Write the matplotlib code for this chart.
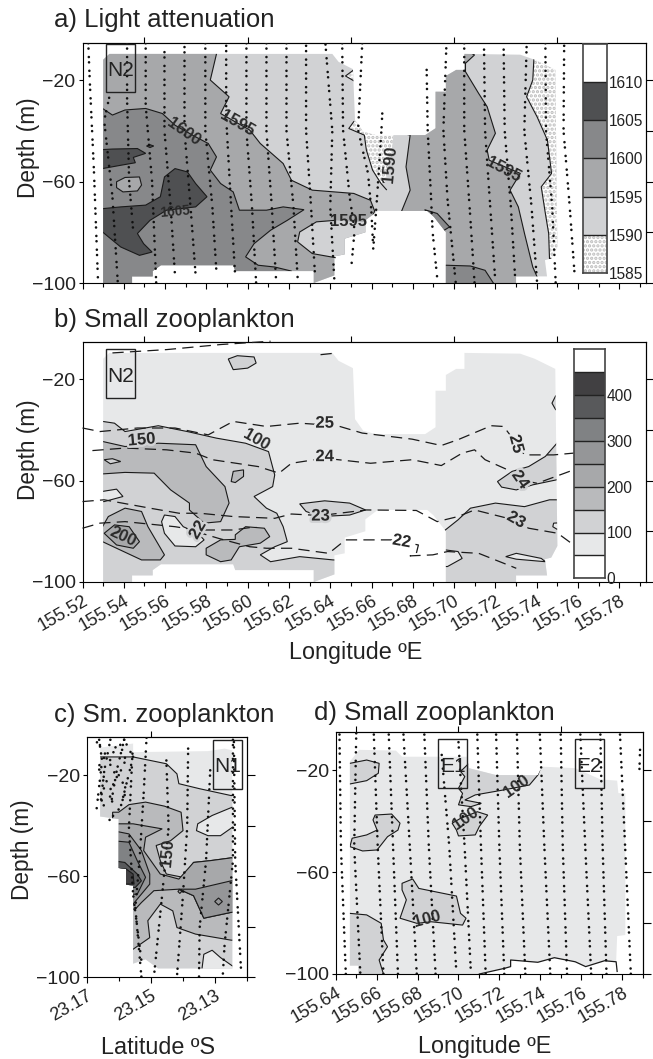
import matplotlib
matplotlib.use("Agg")
import matplotlib.pyplot as plt
import matplotlib.patheffects as pe
import numpy as np
from matplotlib.colors import BoundaryNorm, ListedColormap
from matplotlib.patches import Rectangle

plt.rcParams['font.family'] = ['Liberation Sans', 'DejaVu Sans']
plt.rcParams['hatch.linewidth'] = 1.6
plt.rcParams['axes.linewidth'] = 0.8

W, H = 653, 1059

# colour scales
att_levels = [1585, 1590, 1595, 1600, 1605, 1610, 1615]
att_ticks = [1585, 1590, 1595, 1600, 1605, 1610]
zoo_levels = [0, 50, 100, 150, 200, 250, 300, 350, 400, 450, 500]
zoo_ticks = [0, 100, 200, 300, 400]

# data extent of the transect north (panels a, b), (lon, depth)
env_ab = [(155.5300,-100),(155.5300,-12),(155.5330,-9.7),(155.6410,-9.7),(155.6440,-12.8),(155.6510,-15.7),
          (155.6520,-35.8),(155.6560,-40.4),(155.6620,-41.7),(155.6860,-41.7),(155.6910,-39),(155.6910,-24.6),
          (155.6960,-24.6),(155.6960,-18.4),(155.7010,-16),(155.7050,-16),(155.7050,-9.7),(155.7320,-10),
          (155.7390,-12),(155.7490,-16),(155.7500,-85.8),(155.7470,-90.4),(155.7440,-91),(155.7450,-97.4),
          (155.7300,-97.4),(155.7300,-100),(155.6960,-100),(155.6960,-80),(155.6900,-73.7),(155.6870,-71.6),
          (155.6630,-71.6),(155.6570,-75.3),(155.6570,-80),(155.6470,-82.5),(155.6470,-88.7),(155.6420,-89.5),
          (155.6420,-97),(155.6320,-100),(155.6320,-95.3),(155.5940,-95.3),(155.5930,-93),(155.5580,-93),
          (155.5540,-95.3),(155.5540,-97.4),(155.5440,-97.4),(155.5440,-100)]

# panel a regions, (lon, depth)
a_1595_left = [(155.5849,-9.7),(155.5819,-20),(155.5910,-26.6),(155.5869,-33.2),(155.6010,-39.7),(155.6061,-45),
               (155.6172,-52.9),(155.6212,-59.5),(155.6313,-63.4),(155.6514,-64.7),(155.6595,-67.4),(155.6615,-71.6),
               (155.6575,-80.5),(155.6575,-103),(155.51,-103),(155.51,-5),(155.5849,-5)]
a_1590_lens = [(155.6424,-75.3),(155.6333,-75.9),(155.6252,-79.9),(155.6242,-83.8),(155.6313,-88.4),(155.6424,-90),
               (155.6615,-90),(155.6615,-76),(155.6500,-75.8)]
a_1595_right = [(155.6787,-41.7),(155.6767,-54.2),(155.6787,-63.4),(155.6746,-71.6),(155.6746,-101.6),(155.7412,-101.6),
                (155.7402,-97.6),(155.7381,-93.7),(155.7341,-80.5),(155.7311,-70),(155.7271,-63.4),(155.7321,-56.8),
                (155.7170,-51.6),(155.7160,-47.6),(155.7200,-41),(155.7160,-30.5),(155.7119,-25.3),(155.7055,-16.7),
                (155.7055,-13.4),(155.7099,-10.1),(155.7055,-8.2),(155.6746,-8.2),(155.6746,-41)]
a_1585_mid = [(155.6490,-39.1),(155.6514,-36.4),(155.6706,-36),(155.6706,-41.7),(155.6695,-50),(155.6666,-60),
              (155.6646,-60.8),(155.6605,-55.5),(155.6575,-47.6),(155.6565,-41.7)]
a_1590_line = [(155.6514,-36.4),(155.6490,-39.1),(155.6565,-41.7),(155.6575,-47.6),(155.6605,-55.5),(155.6646,-60.8),
               (155.6672,-63.2)]
a_1585_small = [(155.6514,-16),(155.6474,-18.4),(155.6514,-20.3),(155.6555,-20.3),(155.6555,-16)]
a_1585_right = [(155.7387,-10.8),(155.7381,-20),(155.7351,-26.6),(155.7402,-34.5),(155.7452,-43.7),(155.7472,-56.8),
                (155.7422,-62.1),(155.7442,-72.6),(155.7458,-80.5),(155.7462,-90.4),(155.7623,-90.4),(155.7623,-10.8)]
a_1600 = [(155.51,-31.2),(155.5297,-31.2),(155.5345,-33.8),(155.5406,-31.8),(155.5506,-31.2),(155.5587,-33.2),
          (155.5648,-37.8),(155.5748,-42.4),(155.5809,-45),(155.5849,-50.3),(155.5819,-55.5),(155.5869,-60.8),
          (155.5930,-64.1),(155.5960,-71.3),(155.6091,-71.3),(155.6172,-70),(155.6273,-71.1),(155.6192,-75.3),
          (155.6111,-79.2),(155.6031,-84.5),(155.5990,-89.7),(155.6051,-93),(155.6131,-93.7),(155.6212,-95.3),
          (155.6212,-103),(155.51,-103)]
a_1595_lens = [(155.5365,-60.1),(155.5406,-58.4),(155.5476,-58.2),(155.5486,-61.4),(155.5466,-63.7),(155.5396,-64.1),
               (155.5365,-62.4)]
a_1605_top = [(155.51,-48.3),(155.5345,-47.2),(155.5466,-47),(155.5506,-48.9),(155.5446,-50.5),(155.5456,-52.6),
              (155.5385,-53.6),(155.5297,-54.9),(155.51,-54.9)]
a_1605_dot = [(155.5510,-46),(155.5527,-45.5),(155.5545,-46),(155.5527,-46.6)]
a_1605_big = [(155.51,-70.7),(155.5297,-70.7),(155.5385,-70),(155.5506,-69.3),(155.5577,-66),(155.5597,-58.2),
              (155.5648,-54.9),(155.5708,-56.2),(155.5748,-60.8),(155.5803,-66),(155.5748,-70),(155.5607,-71.3),
              (155.5527,-75.3),(155.5466,-80.5),(155.5496,-84.5),(155.5537,-87.8),(155.5476,-89.1),(155.5385,-85.8),
              (155.5297,-79.9),(155.51,-79.9)]
a_1600_corner = [(155.6962,-93),(155.7079,-93.3),(155.7150,-95),(155.7190,-100),(155.7190,-103),(155.6918,-103),(155.6918,-93)]
a_1600_notch = [(155.6857,-71.1),(155.6918,-72.6),(155.6978,-77.9),(155.6938,-79.9),(155.6908,-79.9),(155.6897,-73.9)]

a_tracks = [
    [(155.5228,-5.5),(155.5235,-20),(155.5255,-55),(155.5275,-99)],
    [(155.5329,-27),(155.5305,-36),(155.5345,-66),(155.5371,-100)],
    [(155.5416,-5.5),(155.5416,-28),(155.5426,-60),(155.5446,-80)],
    [(155.5506,-5.5),(155.5506,-30),(155.5537,-60),(155.5557,-100)],
    [(155.5597,-9),(155.5597,-40),(155.5627,-70),(155.5648,-97)],
    [(155.5694,-7),(155.5694,-40),(155.5728,-75),(155.5748,-97)],
    [(155.5795,-5.5),(155.5795,-40),(155.5829,-70),(155.5849,-96)],
    [(155.5896,-6.5),(155.5896,-35),(155.5920,-70),(155.5940,-98)],
    [(155.5994,-5.5),(155.5994,-40),(155.6021,-70),(155.6041,-100)],
    [(155.6091,-5.5),(155.6091,-40),(155.6117,-70),(155.6137,-98)],
    [(155.6188,-5.5),(155.6188,-40),(155.6222,-70),(155.6242,-98)],
    [(155.6283,-6.5),(155.6283,-40),(155.6307,-70),(155.6327,-98)],
    [(155.6377,-6),(155.6410,-40),(155.6400,-70),(155.6420,-99)],
    [(155.6458,-5.5),(155.6462,-39.7),(155.6494,-66),(155.6518,-79.2),(155.6502,-93.7)],
    [(155.6555,-5.5),(155.6535,-39.7),(155.6583,-56.8),(155.6599,-71.3),(155.6609,-87.8)],
    [(155.6652,-33.2),(155.6648,-39.7),(155.6627,-66),(155.6609,-85.8)],
    [(155.6867,-16),(155.6872,-39.7),(155.6888,-66),(155.6896,-80),(155.6918,-98)],
    [(155.6962,-7.5),(155.6948,-39.7),(155.6968,-67),(155.7008,-100)],
    [(155.7049,-5.5),(155.7049,-39.7),(155.7075,-70),(155.7099,-100)],
    [(155.7145,-8),(155.7150,-40),(155.7175,-70),(155.7200,-100)],
    [(155.7240,-8),(155.7245,-40),(155.7275,-70),(155.7297,-100)],
    [(155.7351,-7),(155.7340,-40),(155.7375,-70),(155.7402,-100)],
    [(155.7442,-5.5),(155.7445,-40),(155.7475,-70),(155.7492,-100)],
    [(155.7533,-6.5),(155.7530,-40),(155.7560,-70),(155.7583,-96)],
]
a_labels = ["1600", "1595", "1605", "1595", "1590", "1595"]
a_label_lon = [155.5688, 155.5950, 155.5650, 155.6490, 155.6690, 155.7240]
a_label_dep = [-40.5, -37, -72, -75.7, -53, -55.5]

# panel b regions, (lon, depth)
b_100_main = [(155.51,-36.7),(155.5297,-36.7),(155.5355,-37.4),(155.5406,-40.7),(155.5567,-38.4),(155.5708,-40.7),
              (155.5849,-43.3),(155.5990,-45.3),(155.6101,-48.6),(155.6131,-57.8),(155.6121,-62.4),(155.6031,-66.3),
              (155.6091,-70.9),(155.6141,-72.9),(155.6172,-78.2),(155.6192,-84.1),(155.6131,-86.1),(155.6061,-89.3),
              (155.6111,-92),(155.6252,-90),(155.6414,-91.3),(155.6474,-91.3),(155.6474,-103),(155.51,-103)]
b_50_lens = [(155.5597,-73.6),(155.5648,-74.2),(155.5688,-78.2),(155.5758,-80.8),(155.5789,-83.4),(155.5748,-86.1),
             (155.5648,-85.8),(155.5597,-80.8),(155.5583,-76.2)]
b_50_left = [(155.51,-64.3),(155.5297,-64.3),(155.5365,-63.4),(155.5396,-66.3),(155.5305,-68.3),(155.51,-68.3)]
b_100_right = [(155.6897,-81.4),(155.6928,-81.4),(155.7019,-75.5),(155.7079,-70.9),(155.7200,-68.9),(155.7341,-70.3),
               (155.7462,-67.6),(155.7623,-67.6),(155.7623,-103),(155.6897,-103)]
b_50_r1 = [(155.6918,-87.4),(155.6962,-87.4),(155.7019,-88),(155.7039,-90.7),(155.6968,-93.9),(155.6918,-93.9)]
b_50_r2 = [(155.7250,-90),(155.7301,-88.7),(155.7422,-90.7),(155.7442,-92),(155.7301,-91)]
b_50_r3 = [(155.7623,-76.2),(155.7482,-76.8),(155.7478,-78.2),(155.7498,-79.2),(155.7623,-79.2)]
b_100_r4 = [(155.7210,-60.4),(155.7281,-56.4),(155.7361,-54.5),(155.7442,-50.5),(155.7498,-45.3),(155.7623,-45.3),
            (155.7623,-59.7),(155.7498,-59.7),(155.7381,-61.7),(155.7301,-63.7),(155.7230,-62.6)]
b_100_top = [(155.5906,-12.1),(155.5950,-10.8),(155.6031,-11.3),(155.6041,-13.7),(155.6000,-15.7),(155.5930,-16.3)]
b_100_arc = [(155.7623,-26.6),(155.7492,-26.6),(155.7474,-29.5),(155.7492,-32.1),(155.7623,-32.1)]
b_100_mid = [(155.6252,-69.2),(155.6373,-68),(155.6494,-68.9),(155.6571,-71.6),(155.6494,-73.6),(155.6353,-74.2),
             (155.6283,-72.2)]
b_150_main = [(155.51,-44.6),(155.5297,-44.6),(155.5406,-46.6),(155.5567,-45.3),(155.5748,-45.9),(155.5799,-54.5),
              (155.5890,-62.4),(155.5910,-68.9),(155.5869,-76.2),(155.5789,-76.8),(155.5718,-71.6),(155.5718,-68.9),
              (155.5627,-63.7),(155.5547,-57.1),(155.5406,-56.8),(155.5297,-57.4),(155.51,-57.4)]
b_100_hole = [(155.5305,-51.8),(155.5345,-51.4),(155.5385,-52.5),(155.5335,-53.4)]
b_150_small = [(155.5920,-60.4),(155.5930,-56.4),(155.5980,-55.8),(155.5980,-58.4),(155.5940,-60.8)]
b_150_low = [(155.51,-78.2),(155.5297,-78.2),(155.5325,-74.2),(155.5406,-70.9),(155.5486,-72.2),(155.5517,-78.2),
             (155.5597,-89.3),(155.5577,-91.3),(155.5486,-91.3),(155.5365,-86.7),(155.5297,-84.1),(155.51,-84.1)]
b_200_core = [(155.5305,-80.8),(155.5355,-77.5),(155.5426,-78.2),(155.5476,-84.1),(155.5446,-86.7),(155.5365,-85.4)]
b_150_mid = [(155.5940,-81.4),(155.5990,-78.2),(155.6081,-78.8),(155.6107,-82.1),(155.6061,-84.7),(155.5960,-86.1),
             (155.5920,-91.3),(155.5869,-92),(155.5799,-89.3),(155.5799,-86.7),(155.5869,-83.4),(155.5940,-83.2)]

# temperature contours over panel b
temp_25 = [(155.52,-39.3),(155.5285,-40.7),(155.5466,-39.3),(155.5648,-39.3),(155.5809,-42),(155.5930,-36.7),
           (155.6091,-38.7),(155.6252,-37.4),(155.6434,-38.4),(155.6555,-41.3),(155.6797,-43.7),(155.6938,-46.2),
           (155.7019,-43.9),(155.7180,-38.4),(155.7240,-38.7),(155.7301,-45.3),(155.7341,-49.9),(155.7482,-49.9),
           (155.7579,-49.2)]
temp_24 = [(155.5248,-48.2),(155.5406,-47.2),(155.5607,-47.9),(155.5748,-49.2),(155.5829,-51.8),(155.6051,-54.5),
           (155.6152,-57.1),(155.6212,-53.2),(155.6373,-51.2),(155.6595,-53.2),(155.6797,-51.8),(155.6938,-54.1),
           (155.7039,-49.2),(155.7099,-47.9),(155.7150,-51.8),(155.7260,-55.8),(155.7321,-59.7),(155.7402,-61.1),
           (155.7579,-55.8)]
temp_top = [(155.5345,-9.7),(155.5607,-8.4),(155.5869,-6.4),(155.6111,-5.1)]
temp_top2 = [(155.6353,-10.4),(155.6434,-9.7)]
temp_23 = [(155.52,-68.3),(155.5305,-67.6),(155.5527,-70.9),(155.5668,-72.9),(155.5769,-72.9),(155.5930,-74.2),
           (155.6131,-74.9),(155.6212,-73.2),(155.6353,-73.8),(155.6575,-71.6),(155.6817,-71.8),(155.6918,-76.2),
           (155.7019,-74.2),(155.7099,-71.6),(155.7260,-74.9),(155.7361,-78.8),(155.7502,-80.8),(155.7579,-85.4)]
temp_22a = [(155.52,-78.8),(155.5285,-76.8),(155.5406,-76.2),(155.5648,-78.2),(155.5748,-79.5),(155.5930,-79.5),
            (155.6041,-78.2)]
temp_22b = [(155.5748,-80.1),(155.5859,-82.8),(155.6010,-86.1),(155.6091,-86.7),(155.6212,-86.7),(155.6393,-88.7),
            (155.6474,-83.4),(155.6696,-83.4),(155.6746,-84.1),(155.6827,-85.4),(155.6817,-88.7),(155.6787,-89.7),
            (155.6897,-89.3),(155.6968,-88),(155.7119,-88.7),(155.7280,-93.9),(155.7301,-94.6)]
b_labels = ["25", "24", "23", "23", "22", "22", "25", "24", "150", "100", "200"]
b_label_lon = [155.6373, 155.6373, 155.6353, 155.7301, 155.6746, 155.5758, 155.7301, 155.7321, 155.5486, 155.6041, 155.5396]
b_label_dep = [-37.4, -50.6, -74, -75.5, -84, -79.5, -45.6, -59.7, -44, -44, -82]

# panel c regions, (lat, depth)
env_c = [(23.1658,-36.4),(23.1658,-9.1),(23.1555,-7.5),(23.1555,-10.9),(23.1321,-10.5),(23.1269,-9.5),(23.1245,-10.2),
         (23.1245,-96.6),(23.1477,-96.6),(23.1516,-93),(23.1555,-94.7),(23.1555,-63.8),(23.1577,-63.4),(23.1577,-57.2),
         (23.1600,-56.8),(23.1600,-37.4)]
c_100 = [(23.1710,-12.8),(23.1555,-12.8),(23.1451,-15.5),(23.1418,-19.5),(23.1412,-23.4),(23.1347,-25.4),(23.1249,-28.1),
         (23.1191,-28.1),(23.1191,-101.6),(23.1710,-101.6)]
c_50_a = [(23.1191,-32.7),(23.1245,-32.7),(23.1308,-36),(23.1353,-39.3),(23.1357,-42),(23.1321,-44),(23.1282,-44),
          (23.1245,-40.7),(23.1191,-40.7)]
c_50_b = [(23.1340,-101.6),(23.1340,-97),(23.1334,-91),(23.1308,-89.4),(23.1282,-92.3),(23.1245,-95.6),(23.1191,-95.6),
          (23.1191,-101.6)]
c_150 = [(23.1619,-34.7),(23.1600,-34.7),(23.1568,-31.7),(23.1516,-30.7),(23.1457,-32.3),(23.1405,-34.7),(23.1399,-42),
         (23.1438,-46),(23.1483,-47.9),(23.1470,-53.9),(23.1451,-59.2),(23.1399,-60.5),(23.1366,-54.6),(23.1314,-53.9),
         (23.1249,-52.8),(23.1191,-52.8),(23.1191,-85.7),(23.1249,-85.4),(23.1360,-83),(23.1418,-80.4),(23.1431,-73.8),
         (23.1470,-71.1),(23.1509,-77.7),(23.1503,-84.4),(23.1555,-89),(23.1619,-89)]
c_200 = [(23.1619,-39.3),(23.1555,-39.3),(23.1464,-41.3),(23.1516,-44.6),(23.1522,-49.9),(23.1470,-59.2),(23.1412,-61.2),
         (23.1366,-54.6),(23.1314,-53.9),(23.1249,-52.8),(23.1191,-52.8),(23.1191,-73.8),(23.1249,-74.4),(23.1334,-76.7),
         (23.1366,-67.8),(23.1412,-65.2),(23.1490,-65.8),(23.1529,-70.5),(23.1548,-73.1),(23.1619,-73.1)]
c_250_right = [(23.1360,-65.2),(23.1249,-61.9),(23.1191,-61.9),(23.1191,-73.8),(23.1249,-74.4),(23.1334,-76.7),
               (23.1366,-67.8),(23.1412,-65.2)]
c_250_left = [(23.1619,-42),(23.1568,-43.3),(23.1529,-49.9),(23.1503,-59.2),(23.1503,-63.2),(23.1555,-71.1),(23.1619,-71.1)]
c_300 = [(23.1619,-46),(23.1568,-46.6),(23.1542,-53.9),(23.1516,-60.5),(23.1542,-67.2),(23.1619,-67.2)]
c_350 = [(23.1619,-53.9),(23.1581,-54.6),(23.1542,-59.2),(23.1529,-61.9),(23.1548,-64.5),(23.1619,-64.5)]
c_400 = [(23.1619,-56.8),(23.1577,-57.2),(23.1555,-59.2),(23.1552,-63.2),(23.1619,-63.2)]
c_spot1 = [(23.1300,-70.1),(23.1288,-68.7),(23.1276,-70.1),(23.1288,-71.5)]
c_spot2 = [(23.1415,-66.1),(23.1409,-65.3),(23.1403,-66.1),(23.1409,-66.9)]
c_tracks = [
    [(23.1661,-6),(23.1652,-14.2),(23.1669,-33.4)],
    [(23.1668,-7),(23.1640,-12),(23.1665,-17),(23.1635,-23),(23.1660,-28),(23.1640,-34)],
    [(23.1626,-6),(23.1645,-18.1),(23.1658,-32.7)],
    [(23.1610,-9),(23.1630,-15),(23.1605,-21),(23.1632,-27),(23.1612,-33)],
    [(23.1583,-6),(23.1606,-18.1),(23.1626,-32.7)],
    [(23.1595,-8),(23.1578,-14),(23.1600,-20),(23.1575,-26),(23.1595,-32)],
    [(23.1583,-6),(23.1555,-12.8),(23.1594,-32.7),(23.1639,-39.3)],
    [(23.1513,-5.2),(23.1522,-27.4),(23.1535,-53.9),(23.1548,-72.5),(23.1529,-100)],
    [(23.1557,-11.5),(23.1568,-40.7),(23.1555,-67.2),(23.1529,-93.6)],
    [(23.1451,-14.2),(23.1444,-40.7),(23.1464,-67.2),(23.1490,-100)],
    [(23.1383,-9.5),(23.1386,-40.7),(23.1399,-67.2),(23.1418,-100)],
    [(23.1314,-18.1),(23.1327,-53.9),(23.1347,-80.4),(23.1349,-100)],
    [(23.1243,-6),(23.1243,-53.9),(23.1269,-87),(23.1275,-100)],
    [(23.1240,-6.9),(23.1236,-53.9),(23.1217,-98.9)],
]
c_labels = ["150"]
c_label_lat = [23.1447]
c_label_dep = [-51]

# panel d regions, (lon, depth)
env_d = [(155.6469,-96.7),(155.6469,-16.6),(155.6514,-12),(155.6694,-12.3),(155.6724,-14.7),(155.6898,-14.7),(155.7041,-14.7),
         (155.7051,-19.2),(155.7184,-21.9),(155.7388,-21.9),(155.7408,-18.6),(155.7571,-19.2),(155.7694,-23.6),(155.7776,-24.1),
         (155.7782,-29),(155.7816,-29),(155.7816,-84.7),(155.7776,-85.1),(155.7771,-95.2),(155.7714,-94.8),(155.7622,-97.1),
         (155.7571,-95.2),(155.7469,-93.6),(155.7388,-95.4),(155.7255,-94.5),(155.7255,-97.1),(155.7224,-97.8),(155.7102,-100),
         (155.6510,-100),(155.6510,-96.7)]
d_bottom_line = [(155.7102,-100),(155.7224,-97.8),(155.7255,-97.1),(155.7255,-94.5),(155.7388,-95.4),(155.7469,-93.6),
                 (155.7571,-95.2),(155.7622,-97.1),(155.7714,-94.8),(155.7771,-95.2),(155.7776,-99)]
d_p1 = [(155.6367,-17.3),(155.6469,-17.3),(155.6551,-16),(155.6612,-17.3),(155.6608,-21.2),(155.6551,-24.1),(155.6469,-25.4),(155.6367,-25.4)]
d_p2 = [(155.6592,-37.6),(155.6673,-37.2),(155.6714,-40.8),(155.6704,-43.5),(155.6653,-46.1),(155.6602,-51.3),(155.6531,-51.7),
        (155.6469,-50),(155.6480,-46.7),(155.6551,-45.4),(155.6602,-43.5),(155.6582,-39.5)]
d_p3 = [(155.6724,-64.4),(155.6776,-62.7),(155.6806,-66.4),(155.6990,-69.4),(155.7010,-76.2),(155.7037,-78.1),(155.7020,-80.8),
        (155.6939,-80.1),(155.6867,-79.5),(155.6796,-80.1),(155.6714,-78.1),(155.6745,-70.9),(155.6724,-67)]
d_p4 = [(155.6367,-76.2),(155.6469,-76.2),(155.6551,-76.8),(155.6622,-80.1),(155.6633,-86.6),(155.6653,-89.3),(155.6612,-94.5),
        (155.6633,-100),(155.6633,-102.4),(155.6367,-102.4)]
d_p5 = [(155.7051,-17.3),(155.7010,-20.5),(155.7031,-22.5),(155.7000,-27.1),(155.7020,-29.1),(155.7000,-33.6),(155.7061,-34.3),
        (155.7112,-33),(155.7031,-31.7),(155.7082,-29.7),(155.7224,-27.7),(155.7347,-25.8),(155.7388,-21.9),(155.7398,-19.9)]
d_p6 = [(155.7010,-38.9),(155.7092,-36.3),(155.7143,-37.6),(155.7102,-42.1),(155.7082,-45.4),(155.7000,-45.8),(155.6990,-43.5),(155.6969,-40.8)]
d_tracks = [
    [(155.6418,-6),(155.6425,-50),(155.6449,-100)],
    [(155.6500,-5.5),(155.6490,-50),(155.6520,-100)],
    [(155.6586,-6),(155.6605,-50),(155.6633,-100)],
    [(155.6659,-6),(155.6680,-50),(155.6704,-100)],
    [(155.6731,-6),(155.6762,-50),(155.6796,-100)],
    [(155.6833,-6),(155.6855,-50),(155.6888,-100)],
    [(155.6918,-14),(155.6955,-50),(155.6990,-100)],
    [(155.7000,-9),(155.7030,-50),(155.7061,-100)],
    [(155.7092,-6),(155.7110,-50),(155.7133,-100)],
    [(155.7184,-6),(155.7200,-50),(155.7224,-100)],
    [(155.7286,-6),(155.7300,-50),(155.7327,-100)],
    [(155.7398,-6),(155.7420,-50),(155.7449,-100)],
    [(155.7500,-6),(155.7510,-50),(155.7531,-100)],
    [(155.7596,-6),(155.7620,-50),(155.7649,-100)],
    [(155.7694,-6),(155.7705,-50),(155.7724,-100)],
    [(155.7790,-6),(155.7815,-50),(155.7843,-100)],
    [(155.7888,-12),(155.7885,-20)],
]
d_labels = ["100", "100", "100"]
d_label_lon = [155.7286, 155.7037, 155.6847]
d_label_dep = [-26.5, -38.8, -78.5]

# station boxes: left, right, top, bottom
box_a = (155.5313, 155.5456, -5.6, -24.9)
box_b = (155.5313, 155.5456, -8.3, -27.6)
box_c = (23.1305, 23.1214, -6, -25.4)
box_e1 = (155.6900, 155.7043, -7.9, -27.1)
box_e2 = (155.7569, 155.7712, -7.9, -27.1)

att_cmap = ListedColormap(['white', '#d1d2d4', '#a7a8aa', '#87888a', '#4f5052', 'white'])
att_norm = BoundaryNorm(att_levels, att_cmap.N)
zoo_cmap = ListedColormap(['white', '#e7e8e9', '#d1d2d4', '#b9babc', '#a7a8aa', '#959698', '#808284', '#58595b', '#414042', 'white'])
zoo_norm = BoundaryNorm(zoo_levels, zoo_cmap.N)


def px_axes(left, top, right, bottom):
    return plt.figure(1).add_axes([left / W, 1 - bottom / H, (right - left) / W, (bottom - top) / H])


def region(ax, pts, level, clip, cmap, norm, edge=True):
    xs, ys = zip(*pts)
    col = cmap(norm(level))
    poly = ax.fill(xs, ys, facecolor=col, edgecolor='#1a1a1a' if edge else col, linewidth=0.8 if edge else 0, zorder=2)[0]
    poly.set_clip_path(clip)
    return poly


def stipple(ax, pts, clip, edge=True):
    xs, ys = zip(*pts)
    poly = ax.fill(xs, ys, facecolor='white', edgecolor='#bcbcbc', hatch='....', linewidth=0, zorder=2)[0]
    poly.set_clip_path(clip)
    if edge:
        line = ax.plot(xs + xs[:1], ys + ys[:1], color='#1a1a1a', lw=0.8, zorder=2)[0]
        line.set_clip_path(clip)


def base_env(ax, pts, level, cmap, norm):
    xs, ys = zip(*pts)
    return ax.fill(xs, ys, facecolor=cmap(norm(level)), edgecolor='none', zorder=1)[0]


def draw_tracks(ax, tracks):
    for tr in tracks:
        xs, ys = zip(*tr)
        ax.plot(xs, ys, color='#111111', lw=1.9, linestyle=(0, (0.01, 2.0, 0.01, 3.2)),
                dash_capstyle='round', zorder=5)


def draw_labels(ax, texts, xs, ys, rots, sizes=None, halos=None):
    for i, (t, x, y, r) in enumerate(zip(texts, xs, ys, rots)):
        txt = ax.text(x, y, t, rotation=r, ha='center', va='center', fontsize=sizes[i] if sizes else 12, color='#2a2a2a',
                      fontweight='bold', rotation_mode='anchor', zorder=6)
        if halos and halos[i]:
            txt.set_path_effects([pe.withStroke(linewidth=3.5, foreground=halos[i])])


def draw_box(ax, box, name):
    left, right, top, bottom = box
    ax.add_patch(Rectangle((left, bottom), right - left, top - bottom, fill=False, edgecolor='#222222', lw=1.0, zorder=7))
    ax.text((left + right) / 2, top + (bottom - top) * 0.55, name, ha='center', va='center', fontsize=15, color='#222222', zorder=7)


def style_axes(ax, xmaj, xmin, xfmt, top_ticks):
    ax.set_ylim(-100, ax.get_ylim()[1])
    ax.set_xticks(xmaj)
    ax.set_xticks(xmin, minor=True)
    ax.set_xticklabels([xfmt % v for v in xmaj], rotation=30, ha='right', rotation_mode='anchor', fontsize=13, color='#222222')
    ax.set_yticks(depth_ticks)
    ax.set_yticklabels(['\u2212%d' % abs(v) for v in depth_ticks], fontsize=14, color='#222222')
    ax.tick_params(axis='x', which='major', length=4.5, width=0.8, pad=3)
    ax.tick_params(axis='x', which='minor', length=3, width=0.8)
    ax.tick_params(axis='y', length=3, width=0.8, pad=2)
    sec_x = ax.secondary_xaxis('top')
    sec_x.set_xticks(top_ticks)
    sec_x.set_xticklabels([])
    sec_x.tick_params(length=4, width=0.8)
    sec_y = ax.secondary_yaxis('right')
    sec_y.set_yticks(right_ticks)
    sec_y.set_yticklabels([])
    sec_y.tick_params(length=5.5, width=0.8)


def draw_colorbar(cax, levels, ticks, cmap, norm, hatch_first=False):
    for lo, hi in zip(levels[:-1], levels[1:]):
        if hatch_first and lo == levels[0]:
            cax.bar(0, hi - lo, bottom=lo, width=1, facecolor='white', edgecolor='#bcbcbc', hatch='....', linewidth=0)
        else:
            cax.bar(0, hi - lo, bottom=lo, width=1, color=cmap(norm(lo)))
        cax.axhline(lo, color='#222222', lw=1.0)
    cax.set_xlim(-0.5, 0.5)
    cax.set_ylim(levels[0], levels[-1])
    cax.set_xticks([])
    cax.yaxis.tick_right()
    cax.set_yticks(ticks)
    cax.tick_params(axis='y', length=0, pad=1, labelsize=11.2, labelcolor='#222222')
    for sp in cax.spines.values():
        sp.set_linewidth(1.2)
        sp.set_color('#444444')


depth_ticks = [-100, -60, -20]
right_ticks = [-100, -80, -60, -40, -20]
lon_ticks_ab = [155.52, 155.54, 155.56, 155.58, 155.60, 155.62, 155.64, 155.66, 155.68, 155.70, 155.72, 155.74, 155.76, 155.78]
lon_minor_ab = [155.53, 155.55, 155.57, 155.59, 155.61, 155.63, 155.65, 155.67, 155.69, 155.71, 155.73, 155.75, 155.77, 155.79]
lon_top_ab = [155.55, 155.60, 155.65, 155.70, 155.75]
lat_ticks = [23.17, 23.15, 23.13]
lat_minor = [23.16, 23.14, 23.12]
lat_top = [23.15]
lon_ticks_d = [155.64, 155.66, 155.68, 155.70, 155.72, 155.74, 155.76, 155.78]
lon_minor_d = [155.65, 155.67, 155.69, 155.71, 155.73, 155.75, 155.77, 155.79]
lon_top_d = [155.65, 155.70, 155.75]

fig = plt.figure(1, figsize=(W / 100, H / 100), dpi=100, facecolor='white')

# a) light attenuation
ax_a = px_axes(82.5, 43, 645.5, 283)
ax_a.set_xlim(155.52, 155.7927)
ax_a.set_ylim(-100, -5.4)
clip_a = base_env(ax_a, env_ab, 1592, att_cmap, att_norm)
region(ax_a, a_1595_left, 1597, clip_a, att_cmap, att_norm)
region(ax_a, a_1590_lens, 1592, clip_a, att_cmap, att_norm, edge=False)
region(ax_a, a_1595_right, 1597, clip_a, att_cmap, att_norm)
stipple(ax_a, a_1585_mid, clip_a, edge=False)
ax_a.plot(*zip(*a_1590_line), color='#1a1a1a', lw=0.8, zorder=3)
stipple(ax_a, a_1585_small, clip_a)
stipple(ax_a, a_1585_right, clip_a)
region(ax_a, a_1600, 1602, clip_a, att_cmap, att_norm)
region(ax_a, a_1595_lens, 1597, clip_a, att_cmap, att_norm)
region(ax_a, a_1605_top, 1607, clip_a, att_cmap, att_norm)
region(ax_a, a_1605_dot, 1607, clip_a, att_cmap, att_norm)
region(ax_a, a_1605_big, 1607, clip_a, att_cmap, att_norm)
region(ax_a, a_1600_corner, 1602, clip_a, att_cmap, att_norm)
region(ax_a, a_1600_notch, 1602, clip_a, att_cmap, att_norm)
ax_a.plot(*zip(*a_1590_lens[:6]), color='#1a1a1a', lw=0.8, zorder=3)
draw_tracks(ax_a, a_tracks)
draw_labels(ax_a, a_labels, a_label_lon, a_label_dep, [-35, -30, 5, 0, 85, -28], sizes=[12, 12, 9.8, 12, 12, 12])
draw_box(ax_a, box_a, 'N2')
style_axes(ax_a, lon_ticks_ab, lon_minor_ab, '%.2f', lon_top_ab)
ax_a.set_xticklabels([])
draw_colorbar(px_axes(583, 43.7, 607, 273), att_levels, att_ticks[1:] + [1585], att_cmap, att_norm, hatch_first=True)

# b) small zooplankton
ax_b = px_axes(82.5, 342, 645.5, 582)
ax_b.set_xlim(155.52, 155.7927)
ax_b.set_ylim(-100, -5.4)
clip_b = base_env(ax_b, env_ab, 75, zoo_cmap, zoo_norm)
for pts, lev in [(b_100_main, 125), (b_50_lens, 75), (b_50_left, 75), (b_100_right, 125), (b_50_r1, 75), (b_50_r2, 75),
                 (b_50_r3, 75), (b_100_r4, 125), (b_100_top, 125), (b_100_arc, 125), (b_100_mid, 125), (b_150_main, 175),
                 (b_100_hole, 125), (b_150_small, 175), (b_150_low, 175), (b_200_core, 225), (b_150_mid, 175)]:
    region(ax_b, pts, lev, clip_b, zoo_cmap, zoo_norm)
for line in [temp_25, temp_24, temp_top, temp_top2, temp_23, temp_22a, temp_22b]:
    ax_b.plot(*zip(*line), color='#1a1a1a', lw=0.9, linestyle=(0, (9, 5)), zorder=4, clip_on=False)
light, mid = '#e7e8e9', '#d1d2d4'
draw_labels(ax_b, b_labels, b_label_lon, b_label_dep, [0, 0, 0, -30, -10, 60, -75, -55, 5, -30, -25],
            halos=[light, light, mid, mid, 'white', mid, light, mid, mid, None, None])
draw_box(ax_b, box_b, 'N2')
style_axes(ax_b, lon_ticks_ab, lon_minor_ab, '%.2f', lon_top_ab)
draw_colorbar(px_axes(574, 349.3, 605, 578.3), zoo_levels, zoo_ticks, zoo_cmap, zoo_norm)

# c) small zooplankton, north-south leg
ax_c = px_axes(86.7, 737, 246.7, 977)
ax_c.set_xlim(23.17, 23.12)
ax_c.set_ylim(-100, -4.9)
clip_c = base_env(ax_c, env_c, 75, zoo_cmap, zoo_norm)
for pts, lev in [(c_100, 125), (c_50_a, 75), (c_50_b, 75), (c_150, 175), (c_200, 225), (c_250_right, 275), (c_250_left, 275),
                 (c_300, 325), (c_350, 375), (c_400, 425), (c_spot1, 275), (c_spot2, 225)]:
    region(ax_c, pts, lev, clip_c, zoo_cmap, zoo_norm)
draw_tracks(ax_c, c_tracks)
draw_labels(ax_c, c_labels, c_label_lat, c_label_dep, [85])
draw_box(ax_c, box_c, 'N1')
style_axes(ax_c, lat_ticks, lat_minor, '%.2f', lat_top)

# d) small zooplankton, east leg
ax_d = px_axes(335.8, 732, 642.5, 974)
ax_d.set_xlim(155.64, 155.79)
ax_d.set_ylim(-100, -5)
clip_d = base_env(ax_d, env_d, 75, zoo_cmap, zoo_norm)
for pts in [d_p1, d_p2, d_p3, d_p4, d_p5, d_p6]:
    region(ax_d, pts, 125, clip_d, zoo_cmap, zoo_norm)
ax_d.plot(*zip(*d_bottom_line), color='#1a1a1a', lw=0.9, zorder=3)
draw_tracks(ax_d, d_tracks)
draw_labels(ax_d, d_labels, d_label_lon, d_label_dep, [35, 35, 15])
draw_box(ax_d, box_e1, 'E1')
draw_box(ax_d, box_e2, 'E2')
style_axes(ax_d, lon_ticks_d, lon_minor_d, '%.2f', lon_top_d)

# titles and axis names, placed in figure pixels
for txt, x, y in [('a) Light attenuation', 54, 20), ('b) Small zooplankton', 54, 320),
                  ('c) Sm. zooplankton', 54, 715), ('d) Small zooplankton', 314, 713)]:
    fig.text(x / W, 1 - y / H, txt, fontsize=18.5, ha='left', va='center', color='#222222')
for txt, x, y in [('Longitude \u00baE', 356, 652), ('Latitude \u00baS', 158, 1047), ('Longitude \u00baE', 485, 1047)]:
    fig.text(x / W, 1 - y / H, txt, fontsize=16.8, ha='center', va='center', color='#222222')
for x, y in [(28, 148), (28, 450), (23, 850)]:
    fig.text(x / W, 1 - y / H, 'Depth (m)', fontsize=16.3, rotation=90, ha='center', va='center', color='#222222')

fig.savefig('out.png', dpi=100)
